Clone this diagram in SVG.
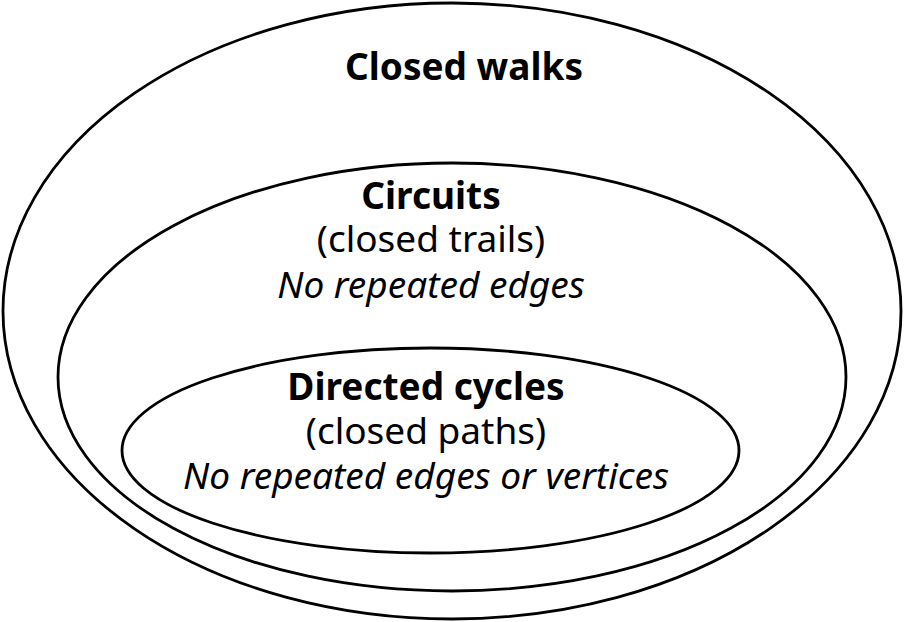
<svg xmlns="http://www.w3.org/2000/svg" width="904" height="622" viewBox="0 0 904 622">
<style>
.e{fill:none;stroke:#000;stroke-width:2.8}
text{font-family:"Noto Sans","Open Sans",sans-serif;font-size:37px;text-anchor:middle;fill:#000}
.b{font-weight:bold}
.i{font-style:italic}
</style>
<rect width="904" height="622" fill="#fff"/>
<g id="closed-walks">
<ellipse class="e" cx="452" cy="311" rx="449" ry="308"/>
<text class="b" x="464" y="80">Closed walks</text>
</g>
<g id="circuits">
<ellipse class="e" cx="452" cy="377" rx="394" ry="214"/>
<text class="b" x="431" y="209">Circuits</text>
<text x="431" y="252">(closed trails)</text>
<text class="i" x="431" y="298">No repeated edges</text>
</g>
<g id="directed-cycles">
<ellipse class="e" cx="430.5" cy="450.5" rx="308.5" ry="102.5"/>
<text class="b" x="426" y="400">Directed cycles</text>
<text x="426" y="444">(closed paths)</text>
<text class="i" x="426" y="489">No repeated edges or vertices</text>
</g>
<g id="connectors"/>
</svg>
